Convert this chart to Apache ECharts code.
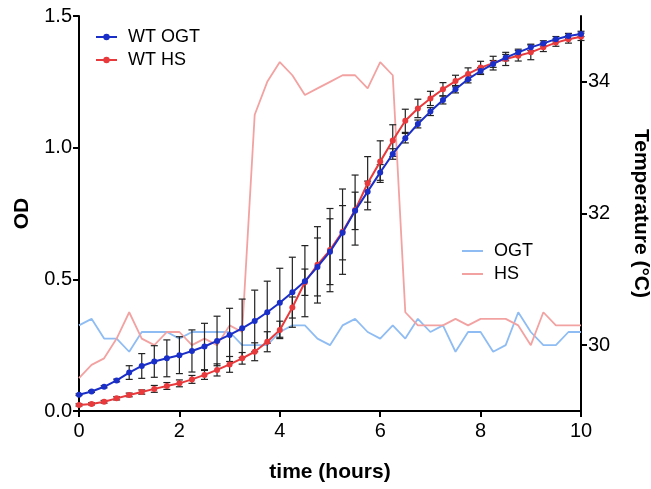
<!DOCTYPE html>
<html lang="en">
<head>
<meta charset="UTF-8">
<script src="https://cdn.jsdelivr.net/npm/echarts@6/dist/echarts.min.js"></script>
<style>
  html, body { margin: 0; padding: 0; background: #fff; }
  #chart { width: 651px; height: 489px; }
</style>
</head>
<body>
<div id="chart"></div>
<script>
// time points (hours)
var hours = [0, 0.25, 0.5, 0.75, 1, 1.25, 1.5, 1.75, 2, 2.25, 2.5, 2.75, 3, 3.25, 3.5, 3.75,
  4, 4.25, 4.5, 4.75, 5, 5.25, 5.5, 5.75, 6, 6.25, 6.5, 6.75, 7, 7.25, 7.5, 7.75,
  8, 8.25, 8.5, 8.75, 9, 9.25, 9.5, 9.75, 10];

// OD values
var odOGT = [0.062, 0.074, 0.092, 0.116, 0.146, 0.171, 0.188, 0.200, 0.212, 0.228, 0.245, 0.266, 0.289, 0.314,
  0.342, 0.375, 0.411, 0.451, 0.493, 0.547, 0.605, 0.677, 0.760, 0.833, 0.906, 0.976, 1.036, 1.090,
  1.137, 1.181, 1.222, 1.260, 1.291, 1.318, 1.342, 1.362, 1.381, 1.396, 1.412, 1.424, 1.432];
var odHS = [0.023, 0.027, 0.035, 0.048, 0.061, 0.072, 0.084, 0.095, 0.105, 0.120, 0.137, 0.156, 0.177, 0.200,
  0.225, 0.263, 0.308, 0.393, 0.489, 0.555, 0.611, 0.681, 0.763, 0.865, 0.947, 1.027, 1.102, 1.149,
  1.187, 1.222, 1.253, 1.280, 1.304, 1.321, 1.337, 1.349, 1.362, 1.381, 1.399, 1.412, 1.421];

// error (half length of bar)
var errOGT = [0.003, 0.003, 0.004, 0.005, 0.026, 0.047, 0.06, 0.07, 0.07, 0.08, 0.088, 0.094, 0.101, 0.111,
  0.117, 0.118, 0.131, 0.133, 0.135, 0.11, 0.125, 0.103, 0.071, 0.04, 0.03, 0.02, 0.018, 0.015,
  0.015, 0.015, 0.014, 0.014, 0.013, 0.013, 0.012, 0.012, 0.012, 0.01, 0.01, 0.01, 0.01];
var errHS = [0.004, 0.004, 0.005, 0.006, 0.007, 0.008, 0.013, 0.013, 0.013, 0.015, 0.017, 0.023, 0.03, 0.022,
  0.034, 0.038, 0.033, 0.04, 0.05, 0.145, 0.158, 0.162, 0.133, 0.101, 0.079, 0.06, 0.044, 0.035,
  0.027, 0.025, 0.022, 0.023, 0.024, 0.026, 0.025, 0.02, 0.028, 0.016, 0.014, 0.015, 0.014];

// temperature (°C)
var tempOGT = [30.3, 30.4, 30.1, 30.1, 29.9, 30.2, 30.2, 30.2, 30.1, 30.2, 30.2, 30.2, 30.2, 30.0, 30.0, 30.0,
  30.2, 30.3, 30.3, 30.1, 30.0, 30.3, 30.4, 30.2, 30.1, 30.3, 30.1, 30.4, 30.2, 30.3, 29.9, 30.2,
  30.2, 29.9, 30.0, 30.5, 30.2, 30.0, 30.0, 30.2, 30.2];
var tempHS = [29.5, 29.7, 29.8, 30.1, 30.5, 30.1, 30.0, 30.2, 30.2, 30.0, 30.1, 30.0, 30.3, 30.2, 33.5, 34.0,
  34.3, 34.1, 33.8, 33.9, 34.0, 34.1, 34.1, 33.9, 34.3, 34.1, 30.5, 30.3, 30.3, 30.3, 30.4, 30.3,
  30.4, 30.4, 30.4, 30.3, 30.0, 30.5, 30.3, 30.3, 30.3];

var odTicks = [0, 0.5, 1, 1.5];
var tempTicks = [30, 32, 34];

function pairs(ys) {
  return hours.map(function (t, i) { return [t, ys[i]]; });
}
function errData(ys, es) {
  return hours.map(function (t, i) { return [t, ys[i] - es[i], ys[i] + es[i]]; });
}

var font = 'Liberation Sans, Arial, Helvetica, sans-serif';

function renderErr(params, api) {
  var x = api.value(0);
  var lo = api.coord([x, api.value(1)]);
  var hi = api.coord([x, api.value(2)]);
  var w = 3.5;
  var st = { stroke: '#222', lineWidth: 1.2 };
  return {
    type: 'group',
    children: [
      { type: 'line', shape: { x1: lo[0], y1: lo[1], x2: hi[0], y2: hi[1] }, style: st },
      { type: 'line', shape: { x1: lo[0] - w, y1: lo[1], x2: lo[0] + w, y2: lo[1] }, style: st },
      { type: 'line', shape: { x1: hi[0] - w, y1: hi[1], x2: hi[0] + w, y2: hi[1] }, style: st }
    ]
  };
}

var myChart = echarts.init(document.getElementById('chart'));

var axisLine = { show: true, lineStyle: { color: '#000', width: 2 } };
var axisTick = { show: true, length: 6, lineStyle: { color: '#000', width: 2 } };

var option = {
  animation: false,
  textStyle: { fontFamily: font },
  grid: { left: 79, right: 70, top: 16, bottom: 78, outerBoundsMode: 'none', containLabel: false },
  legend: [
    {
      data: ['WT OGT', 'WT HS'],
      orient: 'vertical',
      left: 95,
      top: 28,
      padding: 0,
      itemWidth: 21,
      itemHeight: 8,
      itemGap: 5,
      textStyle: { fontSize: 18, color: '#000', fontFamily: font, padding: [0, 0, 0, 6] }
    },
    {
      data: ['OGT', 'HS'],
      orient: 'vertical',
      left: 462,
      top: 242,
      padding: 0,
      icon: 'rect',
      itemWidth: 21,
      itemHeight: 2,
      itemGap: 5,
      textStyle: { fontSize: 18, color: '#000', fontFamily: font, padding: [0, 0, 0, 6] }
    }
  ],
  xAxis: {
    type: 'value',
    min: 0,
    max: 10,
    interval: 2,
    axisLine: axisLine,
    axisTick: axisTick,
    splitLine: { show: false },
    axisLabel: { fontSize: 20, color: '#000', margin: 10, fontFamily: font },
    name: 'time (hours)',
    nameLocation: 'middle',
    nameGap: 51,
    nameTextStyle: { fontSize: 21, fontWeight: 'bold', color: '#000', fontFamily: font }
  },
  yAxis: [
    {
      type: 'value',
      min: 0,
      max: 1.5,
      interval: 0.5,
      axisLine: axisLine,
      axisTick: Object.assign({}, axisTick, { customValues: odTicks }),
      splitLine: { show: false },
      axisLabel: {
        fontSize: 20, color: '#000', margin: 7, fontFamily: font,
        customValues: odTicks,
        formatter: function (v) { return v.toFixed(1); }
      },
      name: 'OD',
      nameLocation: 'middle',
      nameRotate: 90,
      nameGap: 46,
      nameTextStyle: { fontSize: 21, fontWeight: 'bold', color: '#000', fontFamily: font }
    },
    {
      type: 'value',
      position: 'right',
      min: 29,
      max: 35,
      axisLine: axisLine,
      axisTick: Object.assign({}, axisTick, { customValues: tempTicks }),
      splitLine: { show: false },
      axisLabel: { fontSize: 20, color: '#000', margin: 7, fontFamily: font, customValues: tempTicks },
      name: 'Temperature (°C)',
      nameLocation: 'middle',
      nameRotate: -90,
      nameGap: 49,
      nameTextStyle: { fontSize: 21, fontWeight: 'bold', color: '#000', fontFamily: font }
    }
  ],
  series: [
    {
      name: 'OGT',
      type: 'line',
      yAxisIndex: 1,
      data: pairs(tempOGT),
      symbol: 'none',
      lineStyle: { color: '#8fbdf3', width: 1.8 },
      itemStyle: { color: '#8fbdf3' },
      z: 1
    },
    {
      name: 'HS',
      type: 'line',
      yAxisIndex: 1,
      data: pairs(tempHS),
      symbol: 'none',
      lineStyle: { color: '#f3a2a2', width: 1.8 },
      itemStyle: { color: '#f3a2a2' },
      z: 1
    },
    {
      name: 'errHS',
      type: 'custom',
      renderItem: renderErr,
      data: errData(odHS, errHS),
      encode: { x: 0, y: [1, 2] },
      z: 2
    },
    {
      name: 'errOGT',
      type: 'custom',
      renderItem: renderErr,
      data: errData(odOGT, errOGT),
      encode: { x: 0, y: [1, 2] },
      z: 2
    },
    {
      name: 'WT HS',
      type: 'line',
      data: pairs(odHS),
      symbol: 'circle',
      symbolSize: 6,
      lineStyle: { color: '#e8393c', width: 2 },
      itemStyle: { color: '#e8393c' },
      z: 3
    },
    {
      name: 'WT OGT',
      type: 'line',
      data: pairs(odOGT),
      symbol: 'circle',
      symbolSize: 6,
      lineStyle: { color: '#1a2ec8', width: 2 },
      itemStyle: { color: '#1a2ec8' },
      z: 4
    }
  ]
};

myChart.setOption(option);
</script>
</body>
</html>
